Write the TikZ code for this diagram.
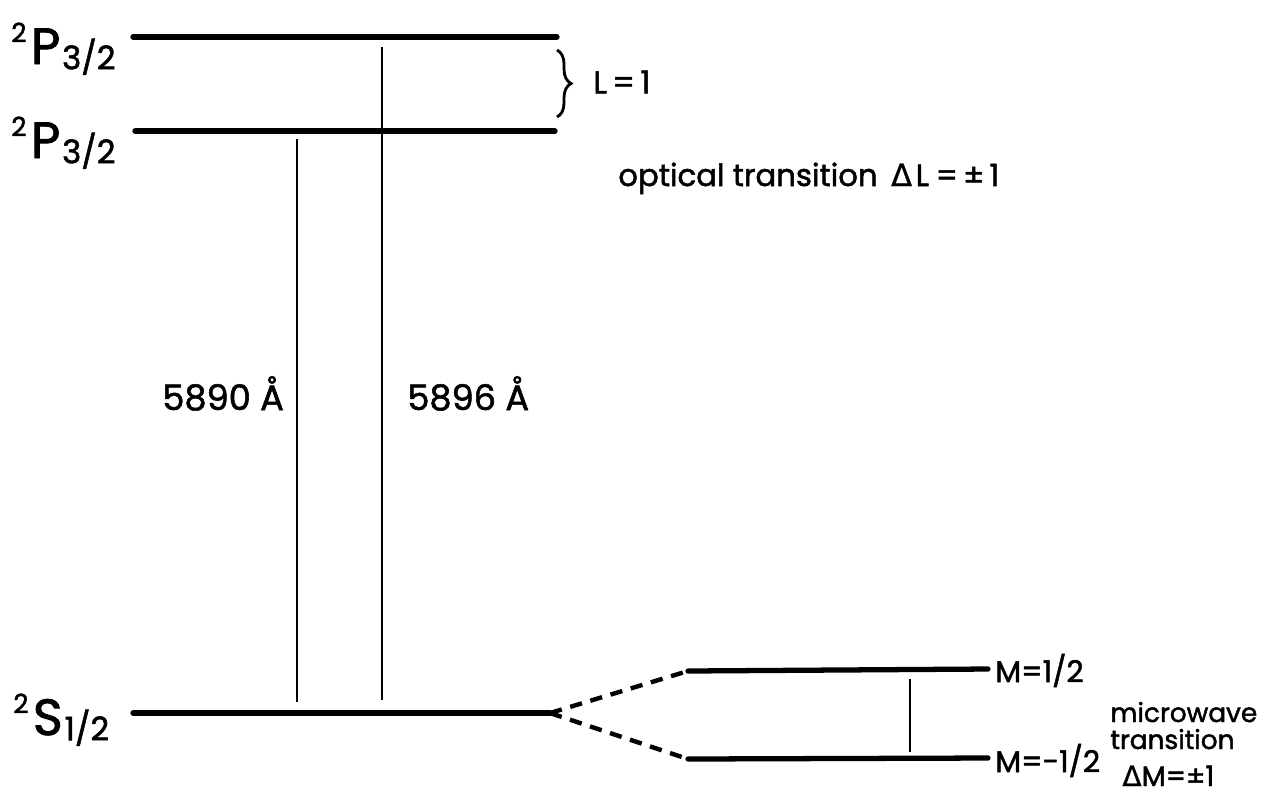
\documentclass[tikz,border=0pt]{standalone}
\usepackage{fontspec}
\setmainfont{Poppins}[FakeBold=1.6]
\newfontfamily\gk{DejaVu Sans}[FakeBold=0.8]
\usetikzlibrary{decorations.pathreplacing}
\newcommand\fsz[1]{\fontsize{#1}{#1}\selectfont}
\newcommand\termlab[3]{\raisebox{12.5pt}{\fsz{15}#1}\kern2.5pt{\fsz{29}#2}\kern1pt\raisebox{-3pt}{\fsz{18.5}#3}}
\begin{document}
\begin{tikzpicture}[x=0.02cm,y=-0.02cm,
  level/.style={line width=3pt, line cap=round},
  trans/.style={line width=1.4pt},
  split/.style={line width=2.5pt, dash pattern=on 7pt off 5pt},
  lbl/.style={inner sep=0pt, anchor=base west},
]
\useasboundingbox (0,0) rectangle (1263,796);
% level end points
\coordinate (p1l) at (133,37);  \coordinate (p1r) at (557,37);
\coordinate (p2l) at (135,131); \coordinate (p2r) at (555,131);
\coordinate (sl)  at (133,713); \coordinate (sr)  at (550,713);
\coordinate (mul) at (688,671); \coordinate (mur) at (988,669);
\coordinate (mdl) at (688,759); \coordinate (mdr) at (988,758);
% transition end points
\coordinate (a1) at (382,47);  \coordinate (a2) at (382,700);
\coordinate (b1) at (297,139); \coordinate (b2) at (297,702);
\coordinate (c1) at (910,679); \coordinate (c2) at (910,752);
\coordinate (br1) at (557,50); \coordinate (br2) at (557,117);
% levels
\draw[level] (p1l) -- (p1r);
\draw[level] (p2l) -- (p2r);
\draw[level] (sl) -- (sr);
\draw[level] (mul) -- (mur);
\draw[level] (mdl) -- (mdr);
\draw[split] (sr) -- (mul);
\draw[split] (sr) -- (mdl);
% transitions
\draw[trans] (a1) -- (a2);
\draw[trans] (b1) -- (b2);
\draw[trans] (c1) -- (c2);
\draw[line width=1.6pt, decorate, decoration={brace, amplitude=8pt}] (br1) -- (br2);
% labels
\node[lbl] (lp1) at (11,64) {\termlab{2}{P}{3/2}};
\node[lbl] (lp2) at (11,158) {\termlab{2}{P}{3/2}};
\node[lbl] (ls) at (13,735) {\termlab{2}{S}{1/2}};
\node[inner sep=0pt, anchor=west] (lL) at (593,82) {\fsz{18}L\,=\,1};
\node[lbl] (lopt) at (618,186) {\fsz{17.5}optical transition \kern3pt{\gk Δ}\kern2pt L\kern1pt\,=\,±\,1};
\node[lbl] (l5890) at (162,410) {\fsz{20}5890 Å};
\node[lbl] (l5896) at (407,410) {\fsz{20}5896 Å};
\node[lbl] (lmu) at (995,682) {\fsz{17}M=1/2};
\node[lbl] (lmd) at (995,772) {\fsz{17}M=-1/2};
\node[lbl] (lmw) at (1110,722) {\fsz{15}microwave};
\node[lbl] (ltr) at (1110,749) {\fsz{15}transition};
\node[lbl] (ldm) at (1122,786) {\fsz{16}{\gk Δ}M=±1};
\end{tikzpicture}
\end{document}
